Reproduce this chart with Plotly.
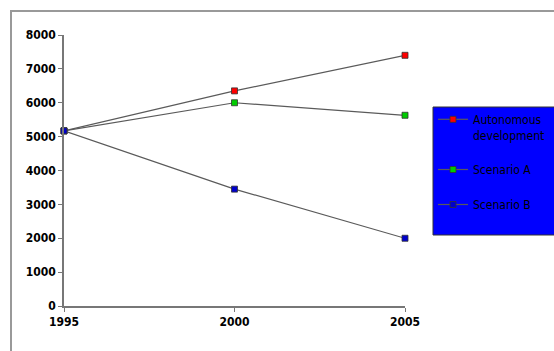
import plotly.graph_objects as go

years = [1995, 2000, 2005]
year_labels = ["1995", "2000", "2005"]
autonomous = [5170, 6350, 7400]
scenario_a = [5170, 6000, 5630]
scenario_b = [5170, 3450, 2000]
series_names = ["Autonomous<br>development", "Scenario A", "Scenario B"]
series_colors = ["#ff0000", "#00cc00", "#0000cc"]
y_ticks = [0, 1000, 2000, 3000, 4000, 5000, 6000, 7000, 8000]

FONT = "DejaVu Sans Condensed, DejaVu Sans, sans-serif"

fig = go.Figure()
for i, (vals, name, col) in enumerate(zip([autonomous, scenario_a, scenario_b], series_names, series_colors)):
    fig.add_trace(go.Scatter(
        x=years, y=vals, name=name, mode="lines+markers",
        legendgroup=f"g{i}", cliponaxis=False,
        line=dict(color="#5a5a5a", width=1.2),
        marker=dict(symbol="square", size=6, color=col, line=dict(color="#333333", width=0.8)),
    ))

# page pixel -> paper helpers (plot area: x 64..405, y 35..306)
def px(x):
    return (x - 64) / 341

def py(y):
    return (306 - y) / 271

fig.update_layout(
    width=554, height=351,
    margin=dict(l=64, r=149, t=35, b=45, autoexpand=False),
    paper_bgcolor="white", plot_bgcolor="white",
    font=dict(family=FONT, size=12, color="black"),
    showlegend=True,
    legend=dict(
        x=px(433), y=py(105), xanchor="left", yanchor="top",
        bgcolor="rgba(0,0,0,0)", borderwidth=0,
        traceorder="grouped", tracegroupgap=16, valign="top",
        font=dict(size=12, color="black", family=FONT),
        itemwidth=30,
    ),
    xaxis=dict(
        range=[1995, 2005], tickvals=years, ticktext=year_labels,
        showgrid=False, zeroline=False, showline=True, linecolor="#777777", linewidth=1.5,
        ticks="outside", ticklen=4, tickcolor="#777777",
        tickfont=dict(size=12, family=FONT, color="black", weight="bold"),
    ),
    yaxis=dict(
        range=[0, 8000], tickvals=y_ticks,
        showgrid=False, zeroline=False, showline=True, linecolor="#777777", linewidth=1.5,
        ticks="outside", ticklen=4, tickcolor="#777777",
        tickfont=dict(size=12, family=FONT, color="black", weight="bold"),
    ),
    shapes=[
        dict(type="rect", xref="paper", yref="paper",
             x0=px(11), x1=px(570), y0=py(370), y1=py(11),
             line=dict(color="#999999", width=2), fillcolor="rgba(0,0,0,0)", layer="below"),
        dict(type="rect", xref="paper", yref="paper",
             x0=px(433), x1=px(570), y0=py(235), y1=py(107),
             line=dict(color="#333333", width=1), fillcolor="#0000ff", layer="above"),
    ],
)

fig.write_html("out.html", config={"displayModeBar": False},
               post_script="document.body.style.margin='0';")
